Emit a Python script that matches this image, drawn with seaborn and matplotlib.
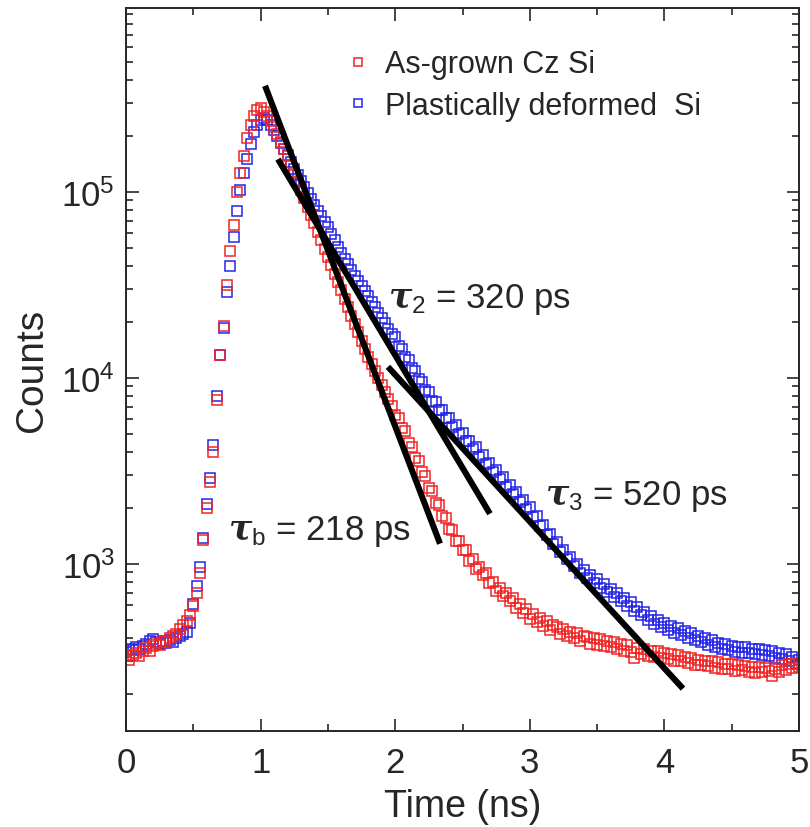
import numpy as np
import pandas as pd
import matplotlib
matplotlib.use("Agg")
import matplotlib.pyplot as plt
import seaborn as sns
from matplotlib.ticker import LogLocator, MultipleLocator, NullFormatter

# Time channels (25 ps bins, 0 to 5 ns)
time_ns = np.round(np.arange(201) * 0.025, 3)

# As-grown Cz Si (red)
counts_asgrown = [
    318, 305, 322, 330, 318, 340, 352, 338, 360, 372, 365, 385, 378, 398, 410, 420, 445, 470, 492, 530, 590,
    692, 891, 1349, 1995, 2754, 3981, 7586, 13200, 19100, 31600, 47900, 66100, 100000, 126000, 155000,
    195000, 229000, 257000, 275000, 282000,
    269000, 257000, 240000, 224000, 204000, 186000, 170000, 155000, 140000, 126000, 113500, 102300,
    92300, 83200, 75000, 67600, 61000, 55000, 49500, 44700, 40300, 36300, 32700, 29500, 26600, 24000,
    21600, 19500, 17600, 15850, 14300, 12900, 11800, 10850, 9930, 9120, 8360, 7670, 7030,
    6300, 6100, 5400, 5150, 4450, 4250, 3700, 3550, 3100, 2950, 2560, 2450, 2130, 2080, 1800, 1770,
    1530, 1520, 1330, 1330, 1180, 1190, 1040, 1060, 940, 960, 870, 890, 790, 800, 710, 745, 670, 700,
    630, 655, 580, 610, 545, 570, 505, 535, 488, 510, 462, 492, 440, 470, 455,
    420, 445, 410, 432, 398, 425, 385, 410, 402, 372, 398, 366, 392, 360, 382, 355, 378, 350, 372, 340,
    365, 335, 310, 352, 328, 348, 318, 340, 315, 338, 312, 330, 306, 325, 300, 322, 298, 315, 292, 312,
    287, 305, 284, 300, 281, 298, 276, 296, 272, 290, 270, 288, 265, 285, 268, 282, 262, 280, 258, 278,
    262, 275, 265, 248, 272, 262, 285, 268, 290, 275, 292, 280,
]

# Plastically deformed Si (blue)
counts_deformed = [
    335, 348, 342, 355, 350, 362, 370, 385, 392, 378, 370, 382, 375, 390, 380, 398, 410, 420, 430, 480, 610,
    760, 960, 1380, 2090, 2880, 4370, 7940, 13200, 18600, 28800, 39800, 57500, 79400, 102000, 126000,
    151000, 182000, 209000, 229000, 245000, 251000,
    243000, 229000, 214000, 200000, 184000, 170000, 157000, 145000, 133000, 123000,
    114800, 106400, 98900, 91600, 85100, 79400, 74100, 69200, 64600, 59600, 55000, 50700, 46800, 43700,
    40700, 38000, 35500, 33300, 31300, 29300, 27500, 25700, 24000, 22400, 20900, 19600, 18400, 17300,
    16500, 14900, 14300, 12900, 12500, 11300, 10900, 9800, 9500, 8550,
    8400, 7550, 7400, 6700, 6700, 6050, 6050, 5450, 5550, 4980,
    5050, 4550, 4600, 4130, 4220, 3760, 3850, 3430, 3500, 3120,
    3200, 2860, 2920, 2600, 2660, 2380, 2430, 2160, 2210, 1980,
    2020, 1780, 1800, 1590, 1610, 1420, 1450, 1280, 1310, 1160,
    1190, 1060, 1090, 970, 1000, 895, 925, 835, 875, 790,
    825, 745, 780, 705, 735, 665, 695, 628, 655, 592,
    620, 560, 585, 528, 552, 498, 522, 475, 500, 456,
    480, 440, 465, 425, 450, 412, 436, 400, 425, 388,
    410, 378, 400, 366, 388, 356, 376,
    348, 370, 342, 362, 336, 358, 333, 355, 330, 350, 326, 346, 322, 342, 318, 338, 312, 332,
    306, 325, 300, 316, 290, 305,
]

# Exponential fit lines (start / end points)
fit_b_x, fit_b_y = [1.033, 2.333], [372000, 1282]
fit_2_x, fit_2_y = [1.129, 2.704], [150000, 1858]
fit_3_x, fit_3_y = [1.946, 4.138], [11460, 213]

series_labels = ["As-grown Cz Si", "Plastically deformed  Si"]
red, blue = "#f02424", "#2424e6"

sns.set_style("ticks")
plt.rcParams["font.family"] = ["Liberation Sans", "DejaVu Sans"]
plt.rcParams["mathtext.fontset"] = "custom"
plt.rcParams["mathtext.it"] = "DejaVu Serif:italic:bold"
plt.rcParams["mathtext.rm"] = "Liberation Sans"
plt.rcParams["mathtext.sf"] = "Liberation Sans"

df = pd.DataFrame({"Time": time_ns, "asgrown": counts_asgrown, "deformed": counts_deformed})

fig = plt.figure(figsize=(8.1, 8.28), dpi=100)
ax = fig.add_axes([126 / 810, 1 - 732 / 828, 673 / 810, 723 / 828])

mk = dict(marker="s", markersize=7.2, markerfacecolor="none", markeredgewidth=1.1,
          linestyle="none", estimator=None, errorbar=None, ax=ax)
sns.lineplot(data=df, x="Time", y="deformed", color=blue, markeredgecolor=blue,
             label=series_labels[1], **mk)
sns.lineplot(data=df, x="Time", y="asgrown", color=red, markeredgecolor=red,
             label=series_labels[0], **mk)

for fx, fy in [(fit_b_x, fit_b_y), (fit_2_x, fit_2_y), (fit_3_x, fit_3_y)]:
    ax.plot(fx, fy, color="black", lw=4.4, solid_capstyle="butt", zorder=5)

ax.set_yscale("log")
ax.set_xlim(0, 5)
ax.set_ylim(126, 9.75e5)
ax.xaxis.set_major_locator(MultipleLocator(1))
ax.xaxis.set_minor_locator(MultipleLocator(0.5))
ax.yaxis.set_major_locator(LogLocator(base=10))
ax.yaxis.set_minor_locator(LogLocator(base=10, subs=np.arange(2, 10)))
ax.yaxis.set_minor_formatter(NullFormatter())

ax.tick_params(which="both", direction="in", top=True, right=True, width=1.2, labelsize=25)
ax.tick_params(which="major", length=9)
ax.tick_params(which="minor", length=5)
ax.tick_params(axis="x", pad=11)
ax.tick_params(axis="y", pad=8)
for s in ax.spines.values():
    s.set_linewidth(1.4)

ax.set_xlabel("Time (ns)", fontsize=27, labelpad=6)
ax.set_ylabel("Counts", fontsize=28, labelpad=8)

ax.text(1.946, 26600, r"$\tau_{\mathrm{2}}$ = 320 ps", fontsize=25, ha="left", va="center")
ax.text(3.113, 2320, r"$\tau_{\mathrm{3}}$ = 520 ps", fontsize=25, ha="left", va="center")
ax.text(0.758, 1500, r"$\tau_{\mathrm{b}}$ = 218 ps", fontsize=25, ha="left", va="center")

handles, labels = ax.get_legend_handles_labels()
ax.legend(handles[::-1], labels[::-1], loc="upper left", bbox_to_anchor=(0.322, 0.943),
          frameon=False, fontsize=22, handlelength=1.0, handletextpad=0.4,
          borderpad=0, borderaxespad=0, labelspacing=0.38, markerscale=0.75)

fig.savefig("out.png", dpi=100)
